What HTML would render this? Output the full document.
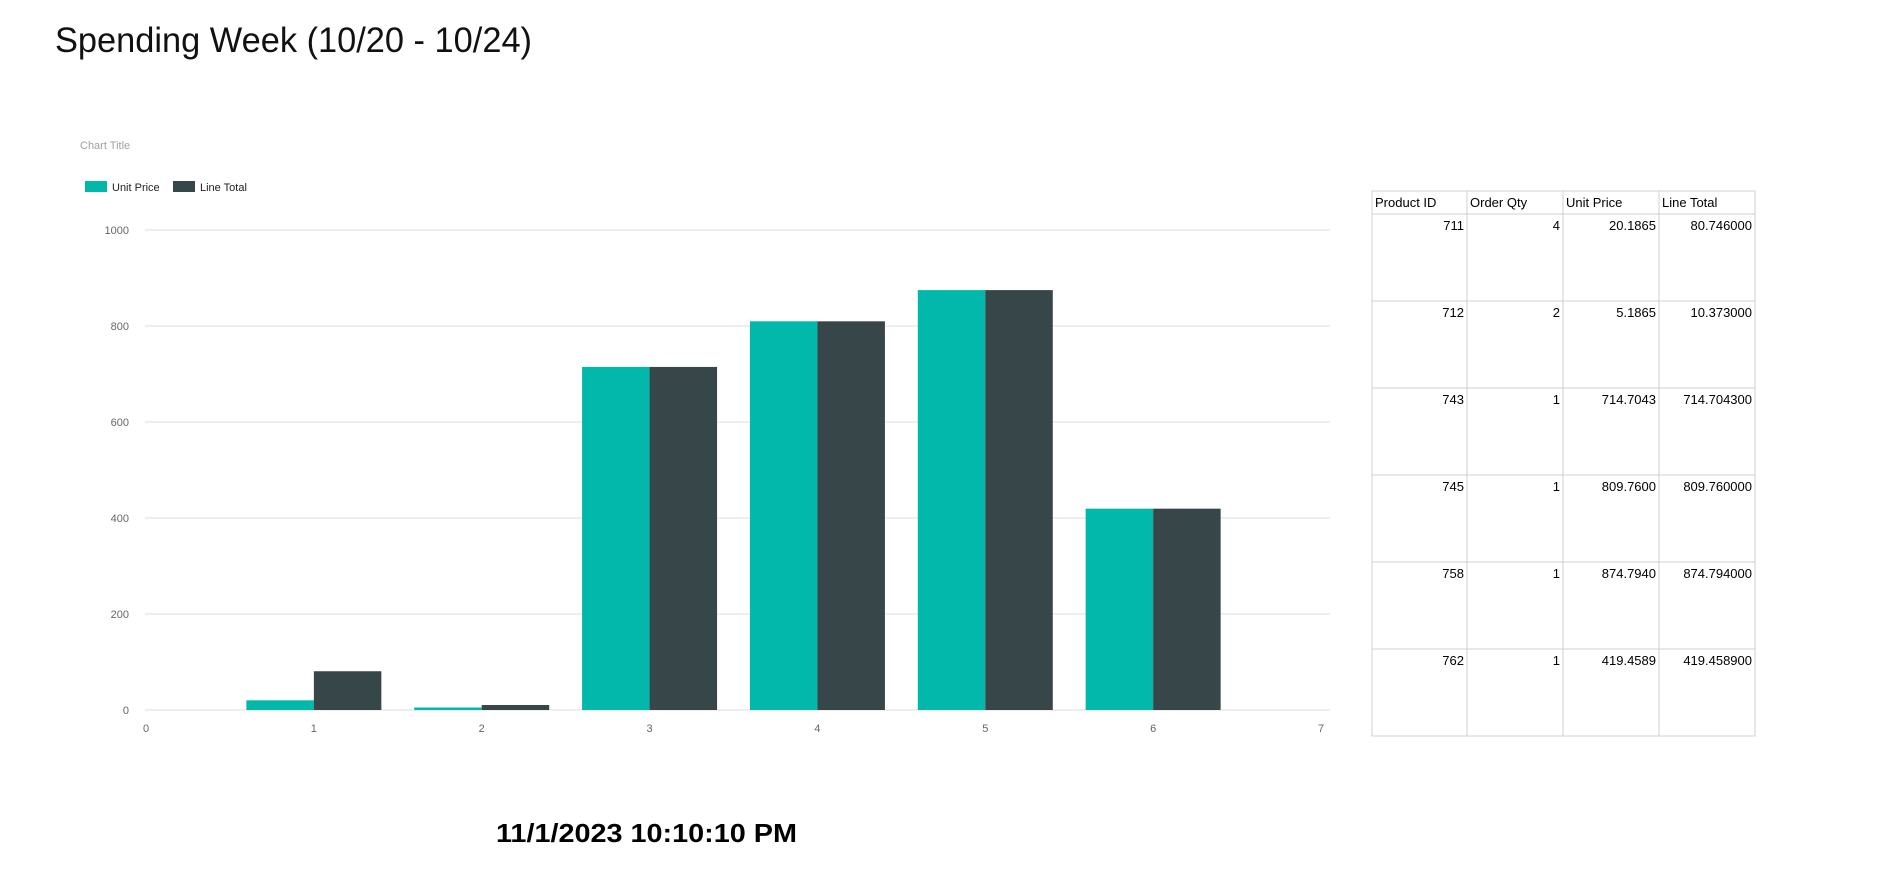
<!DOCTYPE html>
<html><head><meta charset="utf-8"><style>
body{margin:0;background:#fff;width:1898px;height:890px;overflow:hidden;font-family:"Liberation Sans",sans-serif}
</style></head><body>
<svg id="chart" width="1898" height="890" xmlns="http://www.w3.org/2000/svg" font-family="Liberation Sans, sans-serif">
<text x="55" y="52" font-size="35" font-weight="300" fill="#111" textLength="477" lengthAdjust="spacingAndGlyphs">Spending Week (10/20 - 10/24)</text>
<text x="80" y="149" font-size="11" fill="#a0a0a0">Chart Title</text>
<g>
<rect x="85" y="181" width="22" height="11" fill="#01b8aa"/>
<text x="112" y="191" font-size="11" fill="#222">Unit Price</text>
<rect x="173" y="181" width="22" height="11" fill="#374649"/>
<text x="200" y="191" font-size="11" fill="#222">Line Total</text>
</g>
<g id="grid"></g><g id="bars"></g><g id="axes"></g>
<text x="496" y="842" font-size="26" font-weight="bold" fill="#000" textLength="301" lengthAdjust="spacingAndGlyphs">11/1/2023 10:10:10 PM</text>
<g id="table"></g>
</svg>
<script>
const categories=[1,2,3,4,5,6];
const unitPrice=[20.1865,5.1865,714.7043,809.76,874.794,419.4589];
const lineTotal=[80.746,10.373,714.7043,809.76,874.794,419.4589];
const yTicks=[0,200,400,600,800,1000];
const xTicks=[0,1,2,3,4,5,6,7];
const productIds=["711","712","743","745","758","762"];
const orderQty=["4","2","1","1","1","1"];
const unitPriceText=["20.1865","5.1865","714.7043","809.7600","874.7940","419.4589"];
const lineTotalText=["80.746000","10.373000","714.704300","809.760000","874.794000","419.458900"];
const headers=["Product ID","Order Qty","Unit Price","Line Total"];
const NS="http://www.w3.org/2000/svg";
const x=v=>146+(v-0)*(1321-146)/7;
const y=v=>710-v*0.48;
function mk(t,a,p){const e=document.createElementNS(NS,t);for(const k in a)e.setAttribute(k,a[k]);p.appendChild(e);return e;}
const grid=document.getElementById('grid'),bars=document.getElementById('bars'),axes=document.getElementById('axes');
yTicks.forEach(v=>{
 const l=mk('line',{x1:145,x2:1330,y1:y(v),y2:y(v),stroke:'#dcdcdc','stroke-width':1},grid);
 
 
 const t=mk('text',{x:129,y:y(v)+4,'font-size':11,fill:'#666','text-anchor':'end'},axes);t.textContent=v;
 
 
});
xTicks.forEach(v=>{
 const t=mk('text',{x:x(v),y:732,'font-size':11,fill:'#666','text-anchor':'middle'},axes);t.textContent=v;
 
 
});
const bw=67.5;
categories.forEach((c,i)=>{
 const a=mk('rect',{x:x(c)-bw,y:y(unitPrice[i]),width:bw,height:710-y(unitPrice[i]),fill:'#01b8aa'},bars);
 
 
 const b=mk('rect',{x:x(c),y:y(lineTotal[i]),width:bw,height:710-y(lineTotal[i]),fill:'#374649'},bars);
 
 
});
const tb=document.getElementById('table');
const cols=[1372,1467,1563,1659,1755];
const tblTop=191,hh=23,rh=87,n=productIds.length,tblBottom=tblTop+hh+rh*n;
mk('rect',{x:1372,y:tblTop,width:383,height:tblBottom-tblTop,fill:'none',stroke:'#d0d0d0'},tb);
cols.slice(1,4).forEach(cx=>mk('line',{x1:cx,x2:cx,y1:tblTop,y2:tblBottom,stroke:'#d0d0d0'},tb));
for(let r=0;r<n;r++){const yy=tblTop+hh+rh*r;mk('line',{x1:1372,x2:1755,y1:yy,y2:yy,stroke:'#d0d0d0'},tb);}
headers.forEach((h,j)=>{const t=mk('text',{x:cols[j]+3,y:tblTop+16,'font-size':13,fill:'#000'},tb);t.textContent=h;
 
 });
const colsData=[productIds,orderQty,unitPriceText,lineTotalText];
for(let r=0;r<n;r++){colsData.forEach((arr,j)=>{
 const t=mk('text',{x:cols[j+1]-3,y:tblTop+hh+16+rh*r,'font-size':13,fill:'#000','text-anchor':'end'},tb);t.textContent=arr[r];
 
 
});}
</script>
</body></html>
